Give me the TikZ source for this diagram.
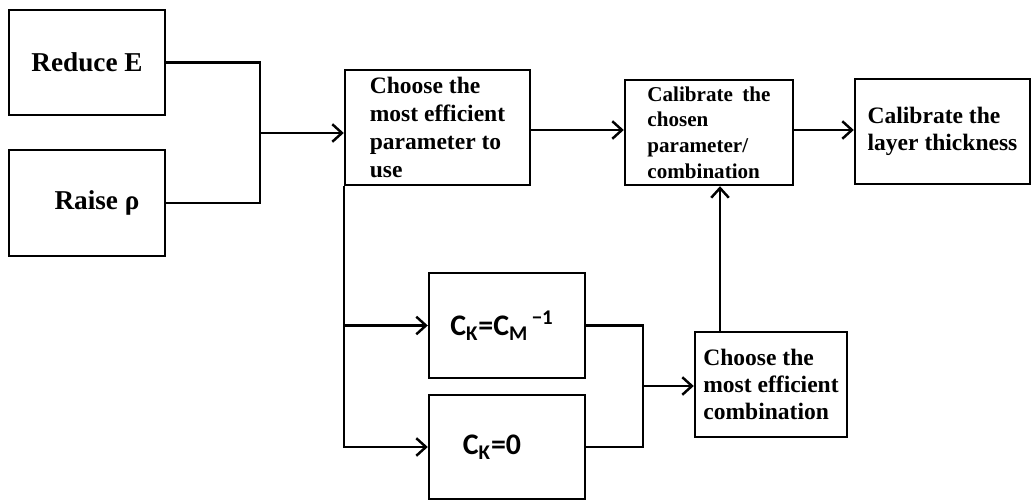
\documentclass[tikz,border=0pt]{standalone}
\usepackage{fontspec}
\setmainfont{Liberation Serif}
\newfontfamily\ckfont{Carlito}
\usetikzlibrary{arrows.meta}
\tikzset{
  box/.style={draw, line width=1.4pt, align=left, inner sep=0pt},
  link/.style={line width=1.4pt},
  >={Straight Barb[length=5.5pt,width=10pt,line width=1.4pt]}
}
\begin{document}
\begin{tikzpicture}[x=0.02cm,y=-0.02cm]
\useasboundingbox (0,0) rectangle (1031,500);
% left inputs
\node[box, minimum width=3.12cm, minimum height=2.1cm, font=\fontsize{15.5}{18}\selectfont\bfseries] (reduce) at (87,62.5) {Reduce E};
\node[box, minimum width=3.12cm, minimum height=2.12cm, font=\fontsize{15.5}{18}\selectfont\bfseries] (raise) at (87,203) {\hspace{0.4cm}Raise ρ};
% top row
\node[box, minimum width=3.7cm, minimum height=2.3cm, font=\fontsize{13.4}{16}\selectfont\bfseries] (choose) at (437.5,127.5) {Choose the\\most efficient\\parameter to\\use};
\node[box, minimum width=3.36cm, minimum height=2.1cm, font=\fontsize{12}{14.6}\selectfont\bfseries] (calib) at (709,132.5) {Calibrate\hspace{0.45em}the\\chosen\\parameter/\\combination};
\node[box, minimum width=3.5cm, minimum height=2.1cm, font=\fontsize{13.4}{15.5}\selectfont\bfseries] (layer) at (942.5,131.5) {Calibrate the\\layer thickness};
% bottom row
\node[box, minimum width=3.12cm, minimum height=2.1cm, font=\fontsize{17}{20}\selectfont\ckfont\bfseries] (ckone) at (507,325.5) {C\textsubscript{K}=C\textsubscript{M}\textsuperscript{\,−1}\hspace{0.2cm}};
\node[box, minimum width=3.12cm, minimum height=2.08cm, font=\fontsize{17}{20}\selectfont\ckfont\bfseries] (ckzero) at (507,447) {C\textsubscript{K}=0\hspace{0.6cm}};
\node[box, minimum width=3.04cm, minimum height=2.1cm, font=\fontsize{13.4}{15.5}\selectfont\bfseries] (comb) at (771,384.5) {Choose the\\most efficient\\combination};
% junctions
\coordinate (jin) at (260,133);
\coordinate (jck) at (643,386);
\coordinate (jup) at (720,0);
% connectors
\draw[link] (reduce.east) -| (jin) |- (raise.east);
\draw[link,->] (jin) -- (jin -| choose.west);
\draw[link,->] (choose.east |- 0,130) -- (calib.west |- 0,130);
\draw[link,->] (calib.east |- 0,130) -- (layer.west |- 0,130);
\draw[link,->] (choose.south west) |- (ckone.west);
\draw[link,->] (choose.south west) |- (ckzero.west);
\draw[link] (ckone.east) -| (jck) |- (ckzero.east);
\draw[link,->] (jck) -- (jck -| comb.west);
\draw[link,->] (jup |- comb.north) -- (jup |- calib.south);
\end{tikzpicture}
\end{document}
